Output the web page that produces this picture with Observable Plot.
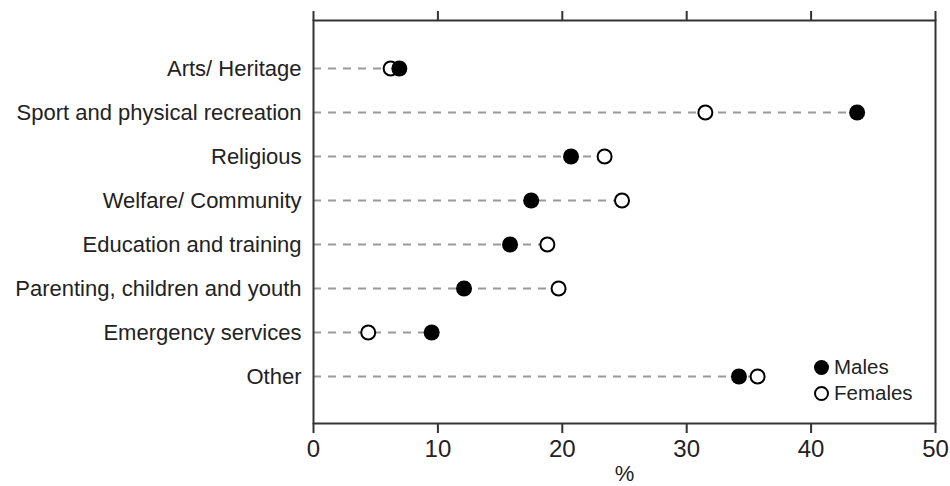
<!DOCTYPE html>
<html>
<head>
<meta charset="utf-8">
<script src="https://cdn.jsdelivr.net/npm/d3@7"></script>
<script src="https://cdn.jsdelivr.net/npm/@observablehq/plot@0.6"></script>
<style>
  body { margin: 0; background: #fff; font-family: "Liberation Sans", Arial, sans-serif; }
  #wrap { position: relative; width: 950px; height: 486px; }
  #legend { position: absolute; left: 814px; top: 354px; font-size: 20.5px; color: #222; line-height: 26px; }
  #legend span.m { display: inline-block; width: 15px; height: 15px; border-radius: 50%; background: #000; vertical-align: -1px; margin-right: 5px; }
  #legend span.f { display: inline-block; width: 11px; height: 11px; border-radius: 50%; border: 2px solid #000; background: #fff; vertical-align: -1px; margin-right: 5px; }
</style>
</head>
<body>
<div id="wrap"><div id="chart"></div>
<div id="legend"><div><span class="m"></span>Males</div><div><span class="f"></span>Females</div></div>
</div>
<script>
const categories = ["Arts/ Heritage", "Sport and physical recreation", "Religious", "Welfare/ Community", "Education and training", "Parenting, children and youth", "Emergency services", "Other"];
const males = [6.9, 43.7, 20.7, 17.5, 15.8, 12.1, 9.5, 34.2];
const females = [6.2, 31.5, 23.4, 24.8, 18.8, 19.7, 4.4, 35.7];
const xTicks = [0, 10, 20, 30, 40, 50];

const rows = categories.map((c, i) => ({cat: c, m: males[i], f: females[i], max: Math.max(males[i], females[i])}));

const chart = Plot.plot({
  width: 950,
  height: 486,
  marginLeft: 313,
  marginRight: 15,
  marginTop: 20,
  marginBottom: 63,
  style: {fontFamily: "'Liberation Sans', Arial, sans-serif", color: "#222", background: "#fff"},
  x: {domain: [0, 50], ticks: xTicks},
  y: {type: "point", domain: categories, padding: 1},
  marks: [
    Plot.ruleY(rows, {y: "cat", x1: 0, x2: "max", stroke: "#9a9a9a", strokeWidth: 2, strokeDasharray: "8,7"}),
    Plot.frame({stroke: "#333", strokeWidth: 2}),
    Plot.axisX({anchor: "top", ticks: xTicks, tickSize: 10, tickFormat: () => "", label: null, stroke: "#333", strokeWidth: 2}),
    Plot.axisX({anchor: "bottom", ticks: xTicks, tickSize: 10, tickPadding: 6, fontSize: 24, label: null, stroke: "#333", strokeWidth: 2}),
    Plot.text(["%"], {frameAnchor: "bottom", dy: 57, fontSize: 22, fill: "#222"}),
    Plot.axisY({anchor: "left", tickSize: 0, tickPadding: 12, fontSize: 22, label: null}),
    Plot.dot(rows, {x: "f", y: "cat", r: 7, fill: "#fff", stroke: "#000", strokeWidth: 2}),
    Plot.dot(rows, {x: "m", y: "cat", r: 8, fill: "#000", stroke: "none"})
  ]
});
document.getElementById("chart").append(chart);
</script>
</body>
</html>
